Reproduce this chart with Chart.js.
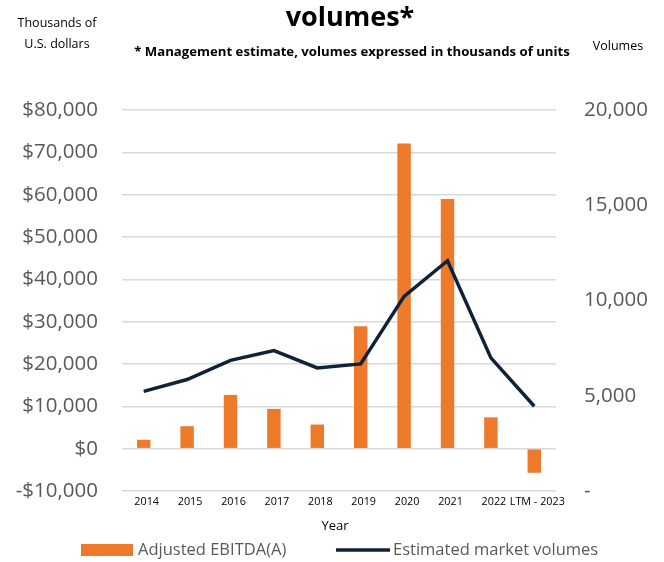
<!DOCTYPE html>
<html>
<head>
<meta charset="utf-8">
<style>
  html, body { margin: 0; padding: 0; background: #fff; }
  #wrap { width: 664px; height: 562px; position: relative; }
</style>
<script src="https://cdn.jsdelivr.net/npm/chart.js@4/dist/chart.umd.min.js"></script>
</head>
<body>
<div id="wrap"><canvas id="c" width="664" height="562"></canvas></div>
<script>
// Years shown on the category axis
const years = ['2014', '2015', '2016', '2017', '2018', '2019', '2020', '2021', '2022', 'LTM - 2023'];
// Adjusted EBITDA(A), thousands of U.S. dollars (left axis)
const ebitda = [2100, 5300, 12700, 9400, 5700, 28900, 72100, 59000, 7400, -5700];
// Estimated market volumes, thousands of units (right axis)
const volumes = [5230, 5850, 6860, 7370, 6460, 6670, 10220, 12090, 6990, 4450];

const FONT = '"Open Sans", "Liberation Sans", sans-serif';
const ORANGE = '#ED7A2A';
const NAVY = '#0E2238';
const GREY_TXT = '#595959';

function dollars(v) {
  const s = '$' + Math.abs(v).toLocaleString('en-US');
  return v < 0 ? '-' + s : s;
}

// Header captions, chart title, axis caption and legend
const decorations = {
  id: 'decorations',
  afterDraw(chart) {
    const ctx = chart.ctx;
    ctx.save();
    ctx.textBaseline = 'middle';
    ctx.fillStyle = '#000';

    ctx.textAlign = 'center';
    ctx.font = 'bold 27px ' + FONT;
    ctx.fillText('volumes*', 350, 18);

    ctx.font = 'bold 13.2px ' + FONT;
    ctx.fillText('* Management estimate, volumes expressed in thousands of units', 352, 52);

    ctx.font = '12.5px ' + FONT;
    ctx.fillText('Thousands of', 57, 23);
    ctx.fillText('U.S. dollars', 57, 44);
    ctx.fillText('Volumes', 618, 46);

    ctx.font = '13px ' + FONT;
    ctx.fillText('Year', 335, 526);

    // Legend
    const ds = chart.data.datasets;
    ctx.textAlign = 'left';
    ctx.font = '16.5px ' + FONT;
    ctx.fillStyle = ds[1].backgroundColor;
    ctx.fillRect(81, 544, 52, 12);
    ctx.fillStyle = GREY_TXT;
    ctx.fillText(ds[1].label, 138, 550);

    ctx.strokeStyle = ds[0].borderColor;
    ctx.lineWidth = 3.5;
    ctx.beginPath();
    ctx.moveTo(336, 550);
    ctx.lineTo(390, 550);
    ctx.stroke();
    ctx.fillText(ds[0].label, 393, 550);

    ctx.restore();
  }
};

new Chart(document.getElementById('c'), {
  data: {
    labels: years,
    datasets: [
      {
        type: 'line',
        label: 'Estimated market volumes',
        data: volumes,
        yAxisID: 'yR',
        borderColor: NAVY,
        backgroundColor: NAVY,
        borderWidth: 3.5,
        pointRadius: 0,
        tension: 0,
        order: 0
      },
      {
        type: 'bar',
        label: 'Adjusted EBITDA(A)',
        data: ebitda,
        yAxisID: 'y',
        backgroundColor: ORANGE,
        barPercentage: 0.31,
        categoryPercentage: 1,
        order: 1
      }
    ]
  },
  options: {
    responsive: false,
    animation: false,
    devicePixelRatio: 1,
    layout: { padding: { top: 110, left: 0, right: 0, bottom: 0 } },
    plugins: {
      legend: { display: false },
      title: { display: false },
      tooltip: { enabled: false }
    },
    scales: {
      x: {
        offset: true,
        grid: { display: false, drawTicks: false },
        border: { display: false },
        ticks: {
          color: '#000',
          font: { family: FONT, size: 10.8 },
          padding: 4,
          labelOffset: 3,
          maxRotation: 0,
          autoSkip: false
        },
        afterFit(s) { s.height = 71; }
      },
      y: {
        position: 'left',
        min: -10000,
        max: 80000,
        grid: { color: '#d9d9d9', lineWidth: 1.5, drawTicks: false },
        border: { display: false },
        ticks: {
          stepSize: 10000,
          color: GREY_TXT,
          font: { family: FONT, size: 20.5 },
          padding: 24,
          callback: v => dollars(v)
        },
        afterFit(s) { s.width = 122; }
      },
      yR: {
        position: 'right',
        min: 0,
        max: 20000,
        grid: { display: false, drawTicks: false },
        border: { display: false },
        ticks: {
          stepSize: 5000,
          color: GREY_TXT,
          font: { family: FONT, size: 20.5 },
          padding: 28,
          callback: v => v === 0 ? '-' : v.toLocaleString('en-US')
        },
        afterFit(s) { s.width = 108; }
      }
    }
  },
  plugins: [decorations]
});
</script>
</body>
</html>
